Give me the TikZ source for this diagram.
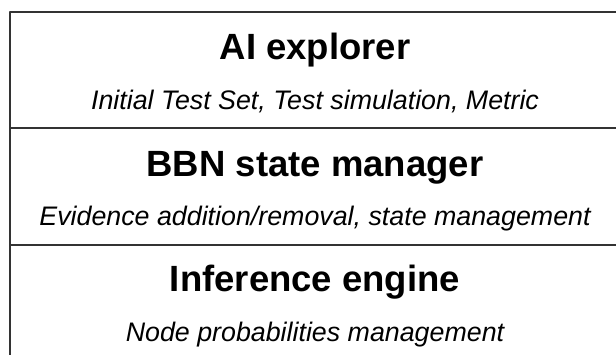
\documentclass[tikz,border=0pt]{standalone}
\usepackage{fontspec}
\setmainfont{Liberation Sans}

\begin{document}
\begin{tikzpicture}[
    x = 1pt, y = -1pt,
    line join=round,
    frame/.style = {line width=1.6pt, black!80},
    title/.style = {anchor=base, font=\fontsize{36.5}{36.5}\selectfont\bfseries},
    detail/.style = {anchor=base, font=\fontsize{26.8}{26.8}\selectfont\itshape}
]
    \useasboundingbox (0,0) rectangle (616,355);

    \coordinate (1) at (10,355);
    \coordinate (2) at (10,12);
    \coordinate (3) at (616,12);
    \coordinate (4) at (10,128);
    \coordinate (5) at (616,128);
    \coordinate (6) at (10,245);
    \coordinate (7) at (616,245);

    \draw[frame] (1) -- (2) -- (3);
    \draw[frame] (4) -- (5);
    \draw[frame] (6) -- (7);

    \node[title] (explorer) at (315,60) {AI explorer};
    \node[detail] (explorerinfo) at (315,110) {Initial Test Set, Test simulation, Metric};

    \node[title] (manager) at (315,177) {BBN state manager};
    \node[detail] (managerinfo) at (315,226) {Evidence addition/removal, state management};

    \node[title] (engine) at (315,292) {Inference engine};
    \node[detail] (engineinfo) at (315,342) {Node probabilities management};

\end{tikzpicture}
\end{document}
